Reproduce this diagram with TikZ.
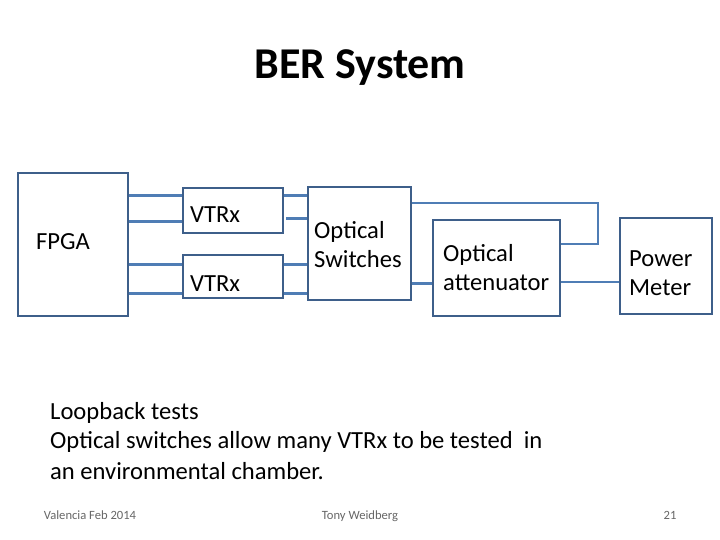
\documentclass[tikz,border=0pt]{standalone}
\usepackage{fontspec}
\setmainfont{Carlito}
\begin{document}
\begin{tikzpicture}[x=1pt,y=-1pt,
 box/.style={draw=boxc,line width=2.2pt,inner sep=0pt},
 wire/.style={draw=wirec,line width=3pt},
 lbl/.style={font=\fontsize{24.6}{29}\selectfont,align=left,anchor=west,inner sep=0pt},
 foot/.style={font=\fontsize{12.6}{14}\selectfont,text=gray!80!black,anchor=base}]
\definecolor{boxc}{HTML}{3E5F8A}
\definecolor{wirec}{HTML}{4F7DB5}
\useasboundingbox (0,0) rectangle (720,540);
\node[font=\bfseries\fontsize{44}{48}\selectfont] (title) at (360,68) {BER System};
% boxes
\draw[box] (18,173) rectangle (128,316); \node[lbl] (fpga) at (36,242) {FPGA};
\draw[box] (183,188) rectangle (283,233); \node[lbl] (v1) at (190,215) {VTRx};
\draw[box] (183,255) rectangle (283,298); \node[lbl] (v2) at (190,284) {VTRx};
\draw[box] (308,187) rectangle (411,300); \node[lbl] (sw) at (314,245) {Optical\\Switches};
\draw[box] (433,220) rectangle (560,316); \node[lbl] (att) at (443,268) {Optical\\attenuator};
\draw[box] (620,218) rectangle (712,314); \node[lbl] (pm) at (629,273) {Power\\Meter};
\coordinate (c1) at (598,203);
\coordinate (c2) at (598,244);
% wires
\draw[wire] (129,196)--(182,196); \draw[wire] (129,222)--(182,222);
\draw[wire] (129,264)--(182,264); \draw[wire] (129,293)--(182,293);
\draw[wire] (284,196)--(307,196); \draw[wire] (286,219)--(307,219);
\draw[wire] (284,264)--(307,264); \draw[wire] (284,293)--(307,293);
\draw[wire] (412,283)--(432,283);
\draw[wire,line width=2.2pt] (412,203)--(c1)--(c2)--(561,244);
\draw[wire,line width=2.2pt] (561,282)--(619,282);
% text
\node[lbl] (t1) at (50,413) {Loopback tests};
\node[lbl] (t2) at (50,442) {Optical switches allow many VTRx to be tested\ \ in};
\node[lbl] (t3) at (50,471) {an environmental chamber.};
\node[foot] (f1) at (90,519) {Valencia Feb 2014};
\node[foot] (f2) at (360,519) {Tony Weidberg};
\node[foot] (f3) at (670,519) {21};
\end{tikzpicture}
\end{document}
